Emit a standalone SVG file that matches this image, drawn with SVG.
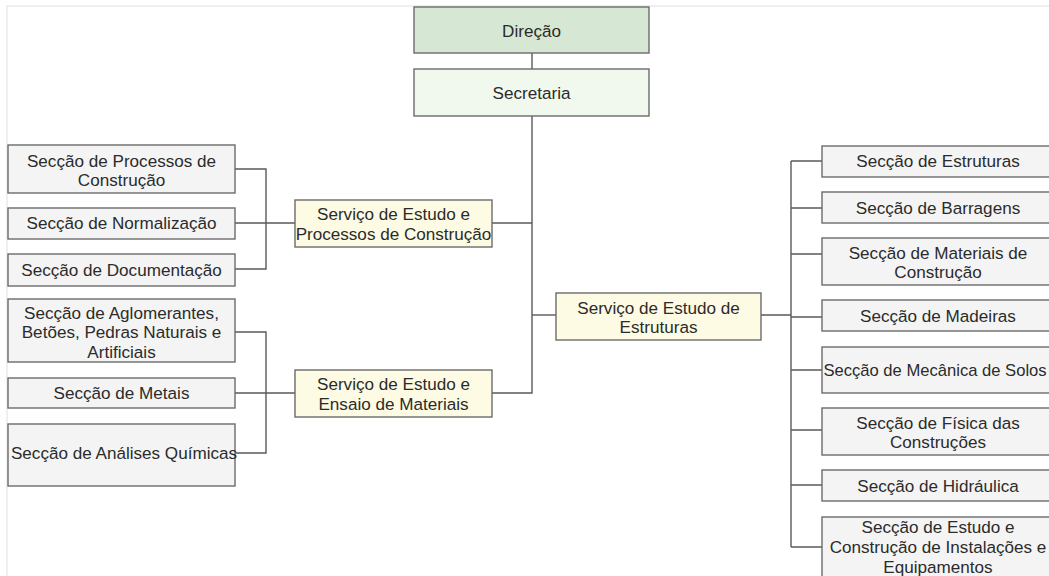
<svg xmlns="http://www.w3.org/2000/svg" width="1049" height="576" viewBox="0 0 1049 576">
<style>
.box{stroke:#6b6b6b;stroke-width:1.4}
.sec{fill:#f4f4f4}
.srv{fill:#fdfbe3}
.dir{fill:#d6e8d4}
.scr{fill:#f1f9ef}
text{font-family:"Liberation Sans",Arial,Helvetica,sans-serif;font-size:17.1px;fill:#2b2b2b;text-anchor:middle}
.con{fill:none;stroke:#5a5a5a;stroke-width:1.4}
</style>
<rect width="1049" height="576" fill="#fff"/>
<path d="M7,576 V6 H1049" fill="none" stroke="#efefef" stroke-width="2"/>
<g id="connectors" class="con">
<path d="M532,53 V69"/>
<path d="M532,116 V393 H492"/>
<path d="M532,223 H492"/>
<path d="M532,315 H556"/>
<path d="M235,169 H266 V269 H235 M235,223 H295"/>
<path d="M235,332 H266 V453 H235 M235,393 H295"/>
<path d="M761,315 H791 M791,161 V547 M791,161 H822 M791,208 H822 M791,254 H822 M791,317 H822 M791,370 H822 M791,430 H822 M791,485 H822 M791,547 H822"/>
</g>
<g id="direcao"><rect class="box dir" x="414" y="7" width="235" height="46"/><text x="531.5" y="37">Direção</text></g>
<g id="secretaria"><rect class="box scr" x="414" y="69" width="235" height="47"/><text x="531.5" y="99">Secretaria</text></g>
<g id="servico-processos"><rect class="box srv" x="295" y="200" width="197" height="47"/><text x="393.5" y="220">Serviço de Estudo e</text><text x="393.5" y="240">Processos de Construção</text></g>
<g id="servico-materiais"><rect class="box srv" x="295" y="370" width="197" height="47"/><text x="393.5" y="390">Serviço de Estudo e</text><text x="393.5" y="410">Ensaio de Materiais</text></g>
<g id="servico-estruturas"><rect class="box srv" x="556" y="293" width="205" height="47"/><text x="658.5" y="314">Serviço de Estudo de</text><text x="658.5" y="333">Estruturas</text></g>
<g id="sec-processos"><rect class="box sec" x="8" y="145" width="227" height="48"/><text x="121.5" y="167">Secção de Processos de</text><text x="121.5" y="186">Construção</text></g>
<g id="sec-normalizacao"><rect class="box sec" x="8" y="208" width="227" height="31"/><text x="121.5" y="229">Secção de Normalização</text></g>
<g id="sec-documentacao"><rect class="box sec" x="8" y="254" width="227" height="32"/><text x="121.5" y="276">Secção de Documentação</text></g>
<g id="sec-aglomerantes"><rect class="box sec" x="8" y="299" width="227" height="63"/><text x="121.5" y="319">Secção de Aglomerantes,</text><text x="121.5" y="338">Betões, Pedras Naturais e</text><text x="121.5" y="358">Artificiais</text></g>
<g id="sec-metais"><rect class="box sec" x="8" y="378" width="227" height="30"/><text x="121.5" y="399">Secção de Metais</text></g>
<g id="sec-analises"><rect class="box sec" x="8" y="424" width="227" height="62"/><text x="124" y="459">Secção de Análises Químicas</text></g>
<g id="sec-estruturas"><rect class="box sec" x="822" y="146" width="232" height="31"/><text x="938" y="167">Secção de Estruturas</text></g>
<g id="sec-barragens"><rect class="box sec" x="822" y="192" width="232" height="31"/><text x="938" y="214">Secção de Barragens</text></g>
<g id="sec-materiais"><rect class="box sec" x="822" y="238" width="232" height="47"/><text x="938" y="259">Secção de Materiais de</text><text x="938" y="278">Construção</text></g>
<g id="sec-madeiras"><rect class="box sec" x="822" y="300" width="232" height="31"/><text x="938" y="322">Secção de Madeiras</text></g>
<g id="sec-mecanica"><rect class="box sec" x="822" y="347" width="232" height="46"/><text x="935" y="376" style="font-size:16.6px">Secção de Mecânica de Solos</text></g>
<g id="sec-fisica"><rect class="box sec" x="822" y="408" width="232" height="47"/><text x="938" y="429">Secção de Física das</text><text x="938" y="448">Construções</text></g>
<g id="sec-hidraulica"><rect class="box sec" x="822" y="470" width="232" height="31"/><text x="938" y="492">Secção de Hidráulica</text></g>
<g id="sec-instalacoes"><rect class="box sec" x="822" y="517" width="232" height="62"/><text x="938" y="533">Secção de Estudo e</text><text x="938" y="553">Construção de Instalações e</text><text x="938" y="573">Equipamentos</text></g>
</svg>
